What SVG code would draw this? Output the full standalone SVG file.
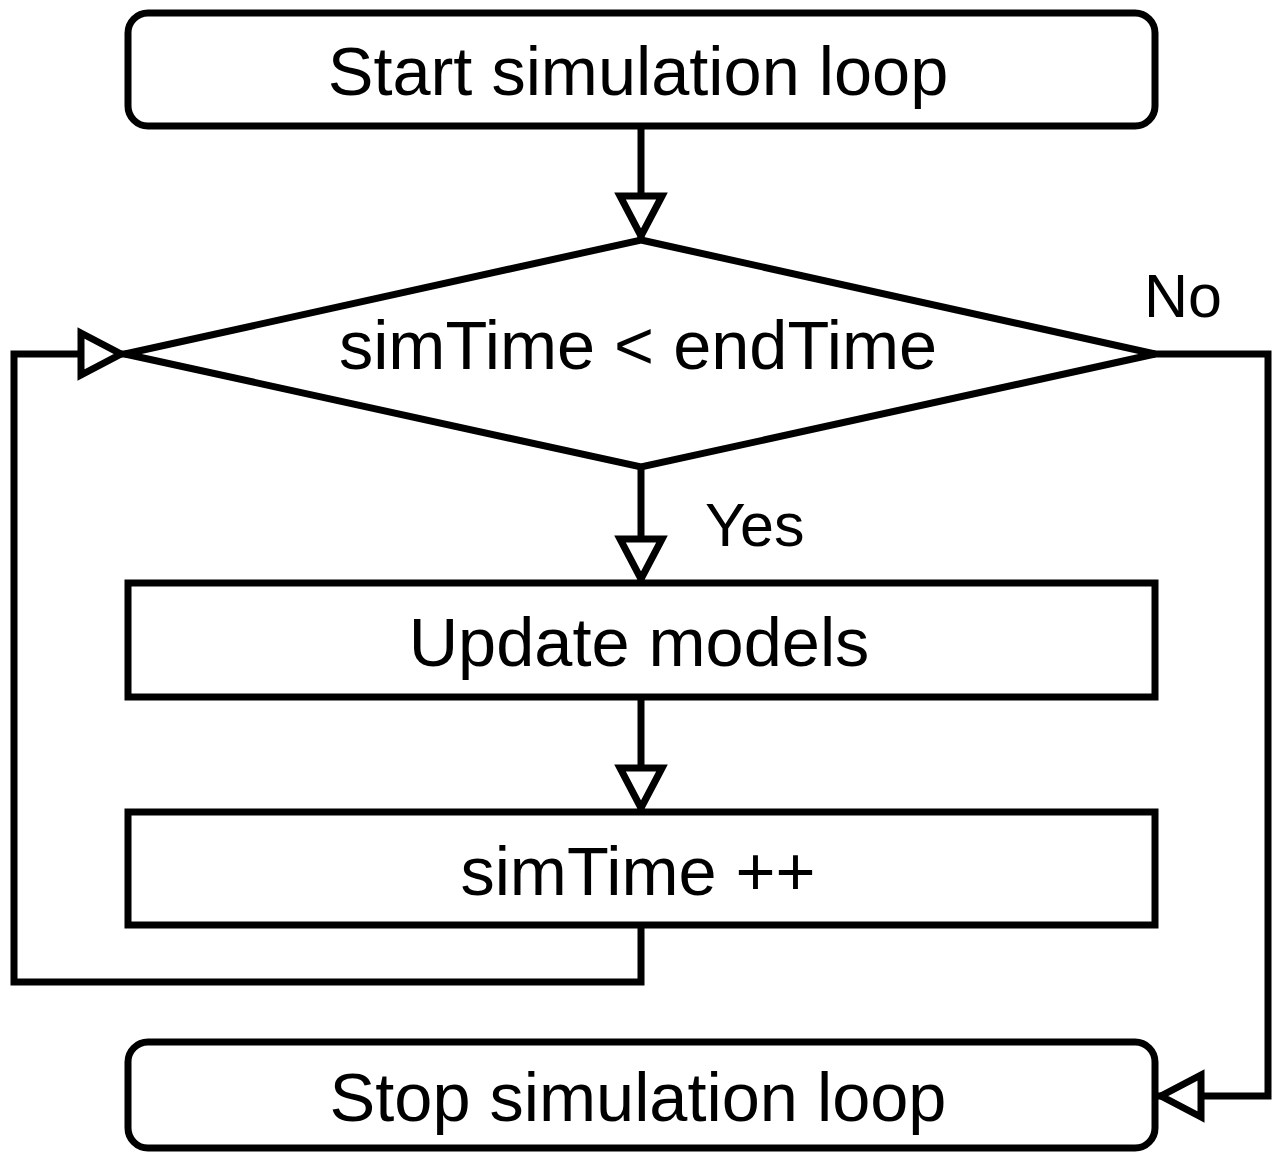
<svg xmlns="http://www.w3.org/2000/svg" width="1278" height="1152" viewBox="0 0 1278 1152">
<style>
.box{fill:#fff;stroke:#000;stroke-width:7}
.ln{fill:none;stroke:#000;stroke-width:7;stroke-linejoin:miter;stroke-linecap:square}
.t{font-family:"Liberation Sans",Arial,sans-serif;font-size:68.5px;fill:#000;text-anchor:middle}
.lb{font-family:"Liberation Sans",Arial,sans-serif;font-size:61px;fill:#000}
</style>
<defs>
<marker id="ah" viewBox="-6 -30 60 60" markerWidth="60" markerHeight="60" refX="44" refY="0" orient="auto" markerUnits="userSpaceOnUse">
<path d="M0,-21 L40,0 L0,21 Z" fill="#fff" stroke="#000" stroke-width="7"/>
</marker>
</defs>
<rect width="1278" height="1152" fill="#fff"/>
<g id="connectors">
<path class="ln" d="M641,126 V240" marker-end="url(#ah)"/>
<path class="ln" d="M641,467 V583" marker-end="url(#ah)"/>
<path class="ln" d="M641,697 V812" marker-end="url(#ah)"/>
<path class="ln" d="M641,925 V982 H14 V354 H125" marker-end="url(#ah)"/>
<path class="ln" d="M1155,354 H1268 V1096 H1157" marker-end="url(#ah)"/>
<text class="lb" x="705" y="546">Yes</text>
<text class="lb" x="1144" y="317">No</text>
</g>
<g id="start">
<rect class="box" x="128" y="13" width="1027" height="113" rx="20"/>
<text class="t" x="638" y="95">Start simulation loop</text>
</g>
<g id="decision">
<polygon class="box" points="641,240 1155,354 641,467 125,354" stroke-linejoin="miter"/>
<text class="t" x="638" y="369">simTime &lt; endTime</text>
</g>
<g id="update">
<rect class="box" x="128" y="583" width="1027" height="114"/>
<text class="t" x="639" y="666">Update models</text>
</g>
<g id="increment">
<rect class="box" x="128" y="812" width="1027" height="113"/>
<text class="t" x="638" y="895">simTime ++</text>
</g>
<g id="stop">
<rect class="box" x="128" y="1042" width="1027" height="106" rx="20"/>
<text class="t" x="638" y="1121">Stop simulation loop</text>
</g>
</svg>
